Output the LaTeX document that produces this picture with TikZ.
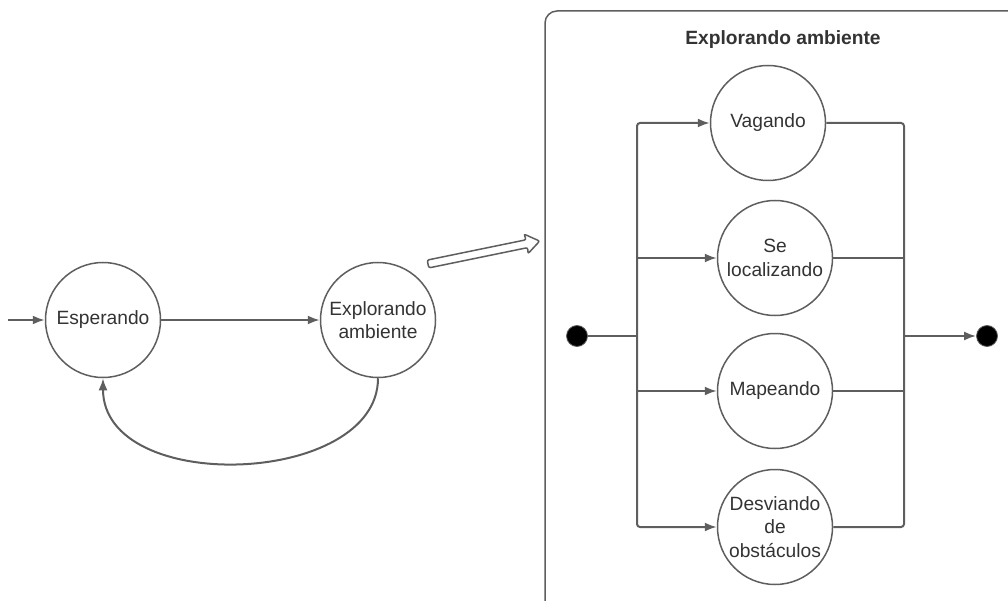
\documentclass[tikz,border=0pt]{standalone}
\usepackage{fontspec}
\setmainfont{Liberation Sans}
\usetikzlibrary{arrows.meta}
\definecolor{linegray}{HTML}{5E5E5E}
\definecolor{txt}{HTML}{333333}
\begin{document}
\begin{tikzpicture}[x=1pt,y=-1pt,
  state/.style={circle,draw=linegray,line width=1.5pt,minimum size=115pt,inner sep=0pt,
    text=txt,align=center,font=\fontsize{19.2}{23.5}\selectfont},
  conn/.style={draw=linegray,line width=2pt},
  tip/.style={-{Latex[length=12pt,width=9pt]}},
  dot/.style={circle,fill=black,draw=linegray,line width=0.8pt,minimum size=21pt,inner sep=0pt}]
\useasboundingbox (0,0) rectangle (1008,601);
\clip (0,0) rectangle (1008,601);

% top-level machine
\node[state] (esp) at (103,320) {Esperando};
\node[state] (expl) at (378,320) {Explorando\\ambiente};
\coordinate (entry) at (8,320);
\draw[conn,tip] (entry) -- (esp.west);
\draw[conn,tip] (esp.east) -- (expl.west);
\draw[conn,tip] (expl.south) .. controls +(0,108) and +(0,118) .. (esp.south);

% hollow arrow pointing to the expanded state
\begin{scope}[shift={(428,264)},rotate=11.6]
  \draw[linegray,line width=1.5pt,fill=white,rounded corners=2pt]
    (0,-4) -- (101,-4) -- (100,-10) -- (114,0) -- (100,10) -- (101,4) -- (0,4) -- cycle;
\end{scope}

% composite state frame
\draw[linegray,line width=1.5pt,rounded corners=12pt] (545,640) |- (1040,11);
\node[font=\bfseries\fontsize{19.2}{23}\selectfont,text=txt] (title) at (783,40) {Explorando ambiente};

% concurrent sub-states
\node[state] (vag) at (768,123) {Vagando};
\node[state] (loc) at (775,258) {Se\\localizando};
\node[state] (map) at (775,391) {Mapeando};
\node[state] (desv) at (775,527) {Desviando\\de\\obstáculos};

\node[dot] (ini) at (577,336) {};
\node[dot] (fim) at (987,336) {};
\coordinate (jl) at (637,336);
\coordinate (jr) at (904,336);

% fork
\draw[conn] (ini) -- (jl);
\draw[conn,tip,rounded corners=3pt] (jl) |- (vag.west);
\draw[conn,tip] (jl |- loc) -- (loc.west);
\draw[conn,tip] (jl |- map) -- (map.west);
\draw[conn,tip,rounded corners=3pt] (jl) |- (desv.west);

% join
\draw[conn,rounded corners=3pt] (vag.east) -| (jr);
\draw[conn] (loc.east) -- (jr |- loc);
\draw[conn] (map.east) -- (jr |- map);
\draw[conn,rounded corners=3pt] (desv.east) -| (jr);
\draw[conn,tip] (jr) -- (fim);
\end{tikzpicture}
\end{document}
